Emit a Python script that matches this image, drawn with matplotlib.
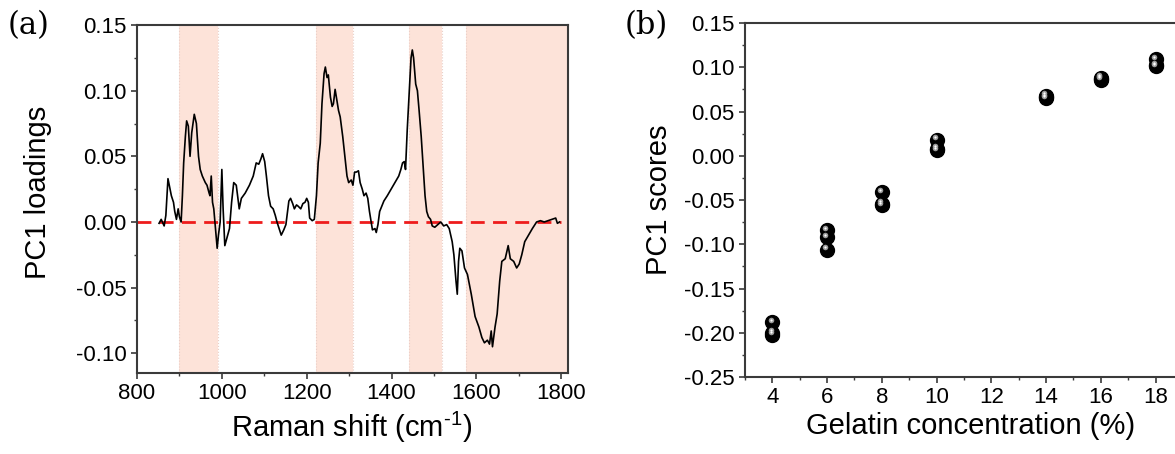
import matplotlib
matplotlib.use("Agg")
import matplotlib.pyplot as plt
import matplotlib.transforms as mtransforms
from matplotlib.ticker import MultipleLocator, FormatStrFormatter

plt.rcParams['font.family'] = ['Liberation Sans', 'DejaVu Sans']
plt.rcParams['axes.unicode_minus'] = False
plt.rcParams['mathtext.fontset'] = 'custom'
plt.rcParams['mathtext.rm'] = 'Liberation Sans'

# (a) PC1 loadings
raman_shift = [852, 857, 864, 868, 873, 878, 881, 886, 889, 893, 897, 900, 904, 907, 910, 914, 917, 921,
               925, 929, 935, 940, 945, 949, 954, 961, 965, 970, 972, 975, 978, 981, 985, 989, 992, 996,
               1000, 1003, 1007, 1012, 1018, 1023, 1028, 1034, 1037, 1041, 1046, 1055, 1065, 1074, 1081,
               1087, 1092, 1096, 1101, 1105, 1110, 1115, 1121, 1126, 1130, 1135, 1140, 1146, 1151, 1155,
               1158, 1162, 1167, 1171, 1176, 1180, 1186, 1191, 1196, 1200, 1204, 1207, 1213, 1218, 1223,
               1227, 1232, 1236, 1241, 1244, 1248, 1251, 1256, 1260, 1263, 1267, 1270, 1275, 1279, 1285,
               1290, 1295, 1299, 1305, 1309, 1313, 1317, 1322, 1326, 1331, 1335, 1340, 1344, 1348, 1352,
               1355, 1361, 1364, 1368, 1372, 1377, 1382, 1390, 1399, 1408, 1417, 1422, 1426, 1430, 1433,
               1437, 1442, 1446, 1449, 1452, 1457, 1461, 1465, 1470, 1474, 1479, 1483, 1487, 1492, 1496,
               1502, 1509, 1516, 1523, 1530, 1536, 1543, 1547, 1552, 1555, 1558, 1561, 1566, 1572, 1579,
               1588, 1597, 1606, 1613, 1619, 1626, 1631, 1635, 1638, 1644, 1649, 1655, 1660, 1668, 1675,
               1680, 1688, 1695, 1701, 1707, 1714, 1723, 1732, 1742, 1751, 1760, 1769, 1778, 1787, 1791,
               1796]
loadings = [-0.001, 0.002, -0.003, 0.005, 0.033, 0.025, 0.020, 0.015, 0.008, 0.002, 0.010, 0.004, 0.000,
            0.020, 0.045, 0.065, 0.077, 0.073, 0.050, 0.068, 0.082, 0.075, 0.050, 0.040, 0.035, 0.030,
            0.028, 0.022, 0.020, 0.035, 0.015, 0.010, -0.005, -0.020, -0.010, 0.000, 0.040, 0.010,
            -0.018, -0.012, -0.005, 0.015, 0.030, 0.028, 0.020, 0.010, 0.018, 0.022, 0.028, 0.035,
            0.045, 0.044, 0.048, 0.052, 0.046, 0.035, 0.020, 0.012, 0.010, 0.005, 0.000, -0.005,
            -0.010, -0.006, -0.002, 0.008, 0.016, 0.018, 0.014, 0.010, 0.013, 0.012, 0.010, 0.014,
            0.015, 0.018, 0.015, 0.003, 0.001, 0.002, 0.020, 0.045, 0.060, 0.090, 0.113, 0.118, 0.110,
            0.112, 0.095, 0.088, 0.090, 0.101, 0.095, 0.085, 0.080, 0.065, 0.050, 0.035, 0.030, 0.032,
            0.028, 0.038, 0.038, 0.039, 0.030, 0.025, 0.020, 0.022, 0.018, 0.008, 0.000, -0.006,
            -0.005, -0.008, -0.002, 0.008, 0.012, 0.016, 0.020, 0.025, 0.030, 0.035, 0.040, 0.045,
            0.046, 0.040, 0.070, 0.100, 0.125, 0.131, 0.125, 0.105, 0.100, 0.085, 0.065, 0.045, 0.020,
            0.008, 0.004, 0.002, -0.003, -0.004, -0.002, 0.000, -0.003, -0.002, -0.005, -0.015, -0.025,
            -0.045, -0.055, -0.030, -0.020, -0.022, -0.035, -0.040, -0.055, -0.072, -0.080, -0.088,
            -0.092, -0.090, -0.093, -0.083, -0.095, -0.080, -0.070, -0.045, -0.030, -0.028, -0.018,
            -0.028, -0.030, -0.035, -0.032, -0.025, -0.015, -0.010, -0.005, 0.000, 0.001, 0.000,
            0.001, 0.002, 0.003, -0.001, 0.000]

# shaded bands (start, end) in cm-1
bands = [(899, 992), (1222, 1309), (1442, 1519), (1575, 1816)]

# (b) PC1 scores
gelatin = [4, 4, 4, 6, 6, 6, 8, 8, 8, 10, 10, 10, 14, 14, 14, 16, 16, 16, 18, 18, 18]
scores = [-0.188, -0.200, -0.202, -0.084, -0.092, -0.106, -0.041, -0.054, -0.056,
          0.018, 0.008, 0.006, 0.068, 0.066, 0.065, 0.088, 0.087, 0.086, 0.109, 0.102, 0.101]

fig = plt.figure(figsize=(11.75, 4.54), dpi=100)
ax1 = fig.add_axes([0.1166, 0.1784, 0.3668, 0.7665])
ax2 = fig.add_axes([0.634, 0.1696, 0.3728, 0.7797])

for lo, hi in bands:
    ax1.axvspan(lo, hi, color='#fde3d9', lw=0, zorder=0)
    for e in (lo, hi):
        ax1.axvline(e, color='#e9cfc8', lw=0.8, ls=':', zorder=0.5)
ax1.plot([800, 1800], [0, 0], color='#ee1c1c', lw=2, ls=(0, (5, 3)), zorder=2)
ax1.plot(raman_shift, loadings, color='black', lw=1.2, zorder=3)
ax1.set_xlim(800, 1816)
ax1.set_ylim(-0.115, 0.15)
ax1.xaxis.set_major_locator(MultipleLocator(200))
ax1.xaxis.set_minor_locator(MultipleLocator(100))
ax1.yaxis.set_major_locator(MultipleLocator(0.05))
ax1.yaxis.set_minor_locator(MultipleLocator(0.025))
ax1.yaxis.set_major_formatter(FormatStrFormatter('%.2f'))
ax1.set_xlabel('Raman shift (cm$^{\\mathrm{\u2010}1}$)', fontsize=21)
ax1.set_ylabel('PC1 loadings', fontsize=21)
ax1.xaxis.set_label_coords(0.499, -0.106)
ax1.yaxis.set_label_coords(-0.197, 0.52)

# spheres: black disc plus a small grey highlight
ax2.plot(gelatin, scores, 'o', color='black', ms=10, zorder=3)
hl = mtransforms.offset_copy(ax2.transData, fig=fig, x=-1.2, y=1.8, units='points')
ax2.plot(gelatin, scores, 'o', color='#9a9a9a', ms=4, mew=0, transform=hl, zorder=4)
ax2.plot(gelatin, scores, 'o', color='white', ms=1.6, mew=0, transform=hl, zorder=5)
ax2.set_xlim(3, 19)
ax2.set_ylim(-0.25, 0.15)
ax2.xaxis.set_major_locator(MultipleLocator(2))
ax2.xaxis.set_minor_locator(MultipleLocator(1))
ax2.set_xticks([4, 6, 8, 10, 12, 14, 16, 18])
ax2.yaxis.set_major_locator(MultipleLocator(0.05))
ax2.yaxis.set_minor_locator(MultipleLocator(0.025))
ax2.yaxis.set_major_formatter(FormatStrFormatter('%.2f'))
ax2.set_xlabel('Gelatin concentration (%)', fontsize=21)
ax2.set_ylabel('PC1 scores', fontsize=21)
ax2.xaxis.set_label_coords(0.516, -0.099)
ax2.yaxis.set_label_coords(-0.164, 0.5)

for ax in (ax1, ax2):
    for s in ax.spines.values():
        s.set_color('#3a3a3a')
        s.set_linewidth(1.5)
    ax.tick_params(which='major', direction='out', length=4.5, width=1.2, color='#3a3a3a',
                   labelsize=16, pad=3)
    ax.tick_params(which='minor', direction='out', length=2.5, width=1.0, color='#3a3a3a')

fig.text(8 / 1175, 1 - 10 / 454, '(a)', fontsize=22, family='DejaVu Serif', va='top')
fig.text(625 / 1175, 1 - 10 / 454, '(b)', fontsize=22, family='DejaVu Serif', va='top')

fig.savefig('out.png', dpi=100)
